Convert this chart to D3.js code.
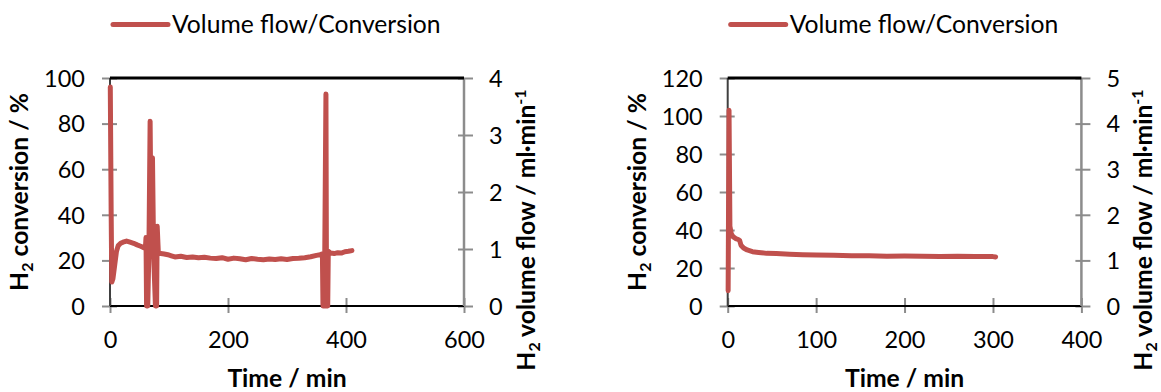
<!DOCTYPE html>
<html><head><meta charset="utf-8">
<script src="https://cdn.jsdelivr.net/npm/d3@7"></script>
<style>
body{margin:0;background:#fff}
svg{display:block}
text{font-family:Lato,'Open Sans',sans-serif;fill:#000;font-variant-numeric:tabular-nums;font-feature-settings:"tnum" 1}
</style></head>
<body><svg id="c" width="1161" height="392"></svg>
<script>
// ---- data ----
const seriesName = "Volume flow/Conversion";

const timeA = [0.5, 2, 3, 5, 8, 11, 14, 18, 22, 28, 34, 40, 46, 52, 58, 60, 61, 62, 64, 66, 68, 70, 72, 74, 77, 79, 80, 82, 86, 92, 98, 104, 110, 120, 130, 140, 150, 160, 170, 180, 190, 200, 210, 220, 230, 240, 250, 260, 270, 280, 290, 300, 310, 320, 330, 340, 350, 356, 360, 361, 363, 364, 366, 367, 369, 370, 374, 380, 386, 392, 398, 404, 410];
const convA = [96, 40, 10.5, 12, 18, 24, 26.5, 27.5, 28, 28.5, 28, 27.5, 26.8, 26.2, 25.5, 25.5, 30, 0, 0, 25, 81, 22, 65, 22, 0, 0, 35, 23, 23, 22.8, 22.5, 22, 21.5, 21.8, 21.3, 21.5, 21.2, 21.4, 21, 20.8, 21.2, 20.5, 21, 20.7, 20.3, 20.8, 20.5, 20.3, 20.6, 20.4, 20.7, 20.4, 20.8, 20.9, 21.2, 21.6, 22.2, 22.5, 22.8, 0, 0, 23, 93, 0, 0, 24, 23.2, 23, 23.4, 23.2, 23.8, 24, 24.3];

const timeB = [0.5, 1.5, 2.5, 4, 6, 9, 12, 13.5, 15, 18, 22, 28, 35, 44, 55, 70, 85, 100, 120, 140, 160, 180, 200, 220, 240, 260, 280, 300, 303];
const convB = [8, 103, 42, 38, 36.5, 35.5, 35, 34.5, 32, 30.5, 29.5, 28.6, 28.2, 27.7, 27.6, 27.3, 27, 26.8, 26.7, 26.5, 26.4, 26.2, 26.3, 26.2, 26.1, 26.2, 26, 26, 25.8];

const xTicksA = [0, 200, 400, 600];
const yTicksA = [0, 20, 40, 60, 80, 100];
const rTicksA = [0, 1, 2, 3, 4];
const xTicksB = [0, 100, 200, 300, 400];
const yTicksB = [0, 20, 40, 60, 80, 100, 120];
const rTicksB = [0, 1, 2, 3, 4, 5];

const xTitle = "Time / min";

// ---- drawing ----
const svg = d3.select("#c");
const RED = "#c0504d";
const TOP = 78, BOTTOM = 306;
const FS = 23.5, TFS = 24.7;

const panels = [
  {time: timeA, conv: convA, xTicks: xTicksA, yTicks: yTicksA, rTicks: rTicksA, left: 110, right: 464},
  {time: timeB, conv: convB, xTicks: xTicksB, yTicks: yTicksB, rTicks: rTicksB, left: 727.7, right: 1081.4}
];

panels.forEach(p => {
  const g = svg.append("g");
  const x = d3.scaleLinear().domain(d3.extent(p.xTicks)).range([p.left, p.right]);
  const y = d3.scaleLinear().domain(d3.extent(p.yTicks)).range([BOTTOM, TOP]);
  const yr = d3.scaleLinear().domain(d3.extent(p.rTicks)).range([BOTTOM, TOP]);

  // legend
  const lx = p.left + 3;
  g.append("line").attr("x1", lx).attr("x2", lx + 55).attr("y1", 24.5).attr("y2", 24.5)
    .attr("stroke", RED).attr("stroke-width", 5).attr("stroke-linecap", "round");
  g.append("text").attr("x", lx + 59).attr("y", 32.5).attr("font-size", TFS).text(seriesName);

  // axes
  const fmt = d3.format("d");
  const xa = g.append("g").attr("transform", `translate(0,${BOTTOM})`)
    .call(d3.axisBottom(x).tickValues(p.xTicks).tickFormat(fmt).tickSizeOuter(0).tickPadding(0));
  const ya = g.append("g").attr("transform", `translate(${p.left},0)`)
    .call(d3.axisLeft(y).tickValues(p.yTicks).tickFormat(fmt).tickSizeOuter(0));
  const ra = g.append("g").attr("transform", `translate(${p.right},0)`)
    .call(d3.axisRight(yr).tickValues(p.rTicks).tickFormat(fmt).tickSizeOuter(0));
  [xa, ya, ra].forEach(a => {
    a.select(".domain").remove();
    a.selectAll(".tick line").attr("stroke", "#8c8c8c").attr("stroke-width", 2);
    a.selectAll(".tick text").attr("font-size", FS).attr("font-family", "Lato,'Open Sans',sans-serif").attr("fill", "#000");
  });
  xa.selectAll(".tick line").attr("y1", -8).attr("y2", 7);
  xa.selectAll(".tick text").attr("y", 0).attr("dy", 0).attr("transform", "translate(0,42)");
  ya.selectAll(".tick line").attr("x1", -8).attr("x2", 7);
  ya.selectAll(".tick text").attr("x", -25).attr("dy", "0.35em");
  ra.selectAll(".tick line").attr("x1", -6).attr("x2", 9);
  ra.selectAll(".tick text").attr("x", 25).attr("dy", "0.35em");

  // axis lines / plot frame
  g.append("line").attr("x1", p.left).attr("x2", p.right).attr("y1", BOTTOM).attr("y2", BOTTOM)
    .attr("stroke", "#000").attr("stroke-width", 2);
  g.append("line").attr("x1", p.left).attr("x2", p.left).attr("y1", TOP).attr("y2", BOTTOM)
    .attr("stroke", "#404040").attr("stroke-width", 2);
  g.append("line").attr("x1", p.right).attr("x2", p.right).attr("y1", TOP).attr("y2", BOTTOM)
    .attr("stroke", "#8c8c8c").attr("stroke-width", 2.5);
  g.append("line").attr("x1", p.left).attr("x2", p.right).attr("y1", TOP).attr("y2", TOP)
    .attr("stroke", "#000").attr("stroke-width", 3);

  // data line
  const pts = p.time.map((t, i) => [t, p.conv[i]]);
  g.append("path").datum(pts)
    .attr("d", d3.line().x(d => x(d[0])).y(d => y(d[1])))
    .attr("fill", "none").attr("stroke", RED).attr("stroke-width", 5)
    .attr("stroke-linejoin", "round").attr("stroke-linecap", "round");

  // x title
  g.append("text").attr("x", (p.left + p.right) / 2).attr("y", 387).attr("text-anchor", "middle")
    .attr("font-size", TFS).attr("font-weight", "bold").text(xTitle);

  // left title
  const lt = g.append("text").attr("transform", `translate(${p.left - 82},${(TOP + BOTTOM) / 2}) rotate(-90)`)
    .attr("text-anchor", "middle").attr("font-size", TFS).attr("font-weight", "bold");
  lt.append("tspan").text("H");
  lt.append("tspan").attr("font-size", TFS * 0.65).attr("dy", 5).text("2");
  lt.append("tspan").attr("dy", -5).text(" conversion / %");

  // right title
  const rt = g.append("text").attr("transform", `translate(${p.right + 71},230) rotate(-90)`)
    .attr("text-anchor", "middle").attr("font-size", TFS).attr("font-weight", "bold");
  rt.append("tspan").text("H");
  rt.append("tspan").attr("font-size", TFS * 0.65).attr("dy", 5).text("2");
  rt.append("tspan").attr("dy", -5).text(" volume flow / ml·min");
  rt.append("tspan").attr("font-size", TFS * 0.65).attr("dy", -9).text("-1");
});
</script></body></html>
